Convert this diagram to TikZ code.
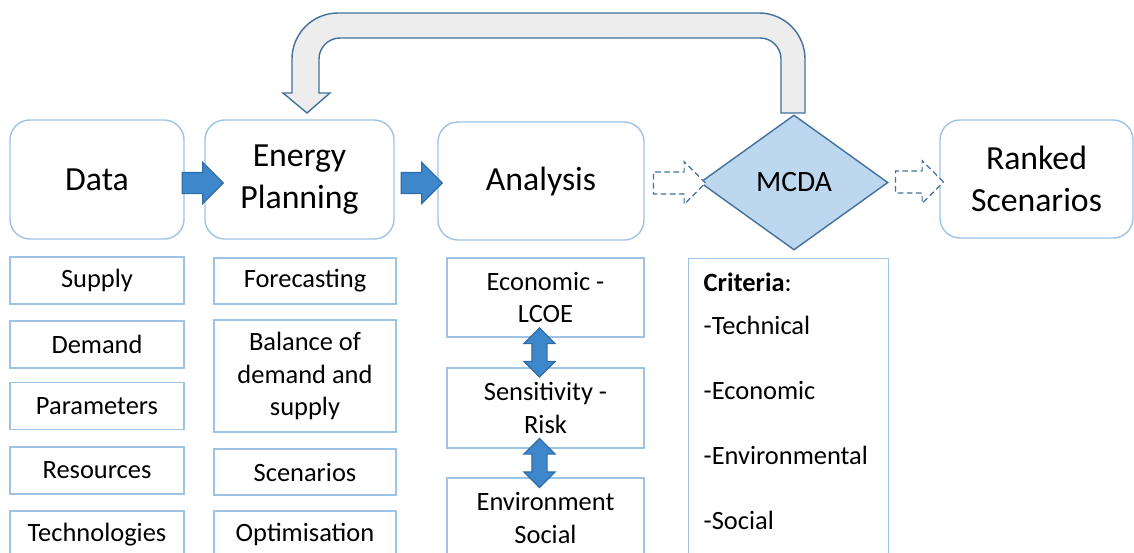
\documentclass[tikz,border=0pt]{standalone}
\usepackage{fontspec}
\setmainfont{Carlito}
\usetikzlibrary{shapes.geometric,shapes.arrows,calc}

\definecolor{boxline}{HTML}{9DC3E6}
\definecolor{darkline}{HTML}{41719C}
\definecolor{arrowfill}{HTML}{3E87CB}
\definecolor{arrowline}{HTML}{2E6DA8}
\definecolor{diafill}{HTML}{BDD7EE}
\definecolor{loopfill}{HTML}{EDEDED}

\begin{document}
\begin{tikzpicture}[
x=0.025cm,
y=-0.025cm,
mainbox/.style={
	draw=boxline,
	line width=1pt,
	rounded corners=0.5cm,
	align=center,
	inner sep=0pt,
	font=\fontsize{24}{29.5}\selectfont
},
subbox/.style={
	draw=boxline,
	line width=1pt,
	align=center,
	inner sep=0pt,
	font=\fontsize{18.8}{23}\selectfont
},
decision/.style={
	diamond,
	draw=darkline,
	fill=diafill,
	line width=1pt,
	inner sep=0pt,
	font=\fontsize{21}{25}\selectfont
},
solidarrow/.style={
	single arrow,
	draw=arrowline,
	fill=arrowfill,
	line width=0.8pt,
	inner sep=0.25cm,
	minimum height=1.025cm,
	single arrow head extend=0.25cm
},
dasharrow/.style={
	single arrow,
	draw=darkline,
	dash pattern=on 4pt off 2.5pt,
	fill=white,
	line width=0.8pt,
	inner sep=0.26cm,
	minimum height=1.25cm,
	single arrow head extend=0.26cm
},
linkarrow/.style={
	double arrow,
	shape border rotate=90,
	draw=arrowline,
	fill=arrowfill,
	line width=0.8pt,
	inner sep=0.175cm,
	minimum height=1.225cm,
	double arrow head extend=0.2cm
},
feedback/.style={
	draw=darkline,
	fill=loopfill,
	line width=1pt
}
]
\useasboundingbox (0,0) rectangle (1134,553);
\clip (0,0) rectangle (1134,553);

\node[mainbox,minimum width=4.35cm,minimum height=2.975cm] (data) at (97,179.5) {Data};
\node[mainbox,minimum width=4.725cm,minimum height=2.975cm] (plan) at (299.5,179.5) {Energy\\Planning};
\node[mainbox,minimum width=5.15cm,minimum height=2.95cm] (analysis) at (541,181) {Analysis};
\node[decision,minimum width=4.7cm,minimum height=3.375cm] (mcda) at (794,182.5) {MCDA};
\node[mainbox,minimum width=4.825cm,minimum height=2.95cm] (ranked) at (1036.5,179) {Ranked\\Scenarios};

\foreach \y/\t/\n in {280.5/Supply/supply,344.5/Demand/demand,406/Parameters/param,470.5/Resources/res,534.5/Technologies/tech}
\node[subbox,minimum width=4.35cm,minimum height=1.175cm] (\n) at (97,\y) {\t};

\node[subbox,minimum width=4.55cm,minimum height=1.15cm] (fore) at (305,281) {Forecasting};
\node[subbox,minimum width=4.55cm,minimum height=2.8cm] (balance) at (305,376) {Balance of\\demand and\\supply};
\node[subbox,minimum width=4.55cm,minimum height=1.15cm] (scen) at (305,472) {Scenarios};
\node[subbox,minimum width=4.55cm,minimum height=1.175cm] (optim) at (305,534.5) {Optimisation};

\node[subbox,minimum width=4.925cm,minimum height=1.975cm] (econ) at (545.5,297.5) {Economic -\\LCOE};
\node[subbox,minimum width=4.925cm,minimum height=2cm] (sens) at (545.5,408) {Sensitivity -\\Risk};
\node[subbox,minimum width=4.925cm,minimum height=2cm] (env) at (545.5,518) {Environment\\Social};

\node[subbox,anchor=north west,minimum width=5cm,minimum height=8cm] (crit) at (688,258) {};
\node[subbox,draw=none,align=left,anchor=north west] (critlist) at ([shift={(15,14)}]crit.north west)
{\textbf{Criteria}:\\[0.27cm]-Technical\\[0.82cm]-Economic\\[0.82cm]-Environmental\\[0.82cm]-Social};

\node[solidarrow] (dp) at (197.5,183) {};
\node[solidarrow] (pa) at (416.5,183) {};
\node[dasharrow,minimum height=1.3cm] (am) at (674,183) {};
\node[dasharrow,minimum height=1.2cm] (mr) at (914,182) {};

\node[linkarrow,xshift=-0.15cm] (es) at ($(econ.south)!0.5!(sens.north)$) {};
\node[linkarrow,xshift=-0.15cm] (se) at ($(sens.south)!0.5!(env.north)$) {};

\draw[feedback] (805,113) -- (805,59) arc[start angle=0,end angle=90,radius=1.15cm] -- (338,13) arc[start angle=90,end angle=180,radius=1.15cm] -- (292,93) -- (283,93) -- (307,113) -- (330,93) -- (319,93) -- (319,59) arc[start angle=180,end angle=90,radius=0.525cm] -- (760,38) arc[start angle=90,end angle=0,radius=0.525cm] -- (781,113) -- cycle;

\end{tikzpicture}
\end{document}
